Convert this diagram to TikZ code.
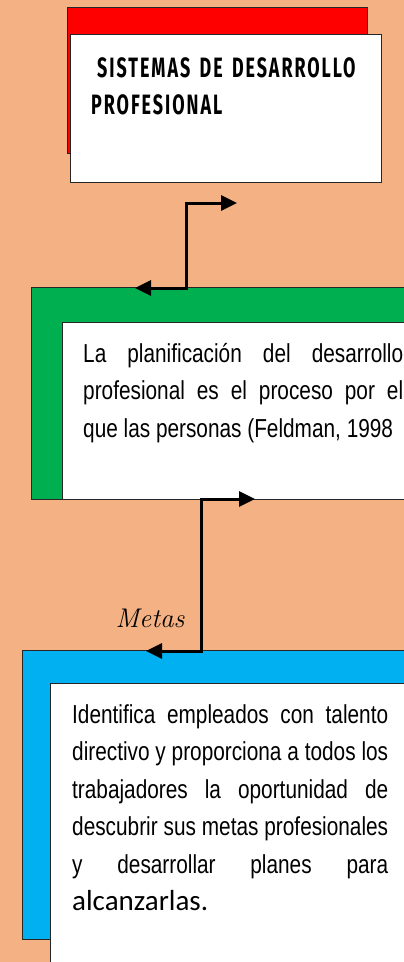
\documentclass[tikz,border=0pt]{standalone}
\usepackage{fontspec}
\usetikzlibrary{arrows.meta}
\newfontfamily\cuerpo[FakeStretch=0.8]{Liberation Sans}
\newfontfamily\titulofont[FakeStretch=0.64,LetterSpace=7]{Fira Sans}
\newfontfamily\calibri{Carlito}
\definecolor{fondo}{RGB}{244,177,131}
\definecolor{rojo}{RGB}{255,0,0}
\definecolor{verde}{RGB}{0,176,80}
\definecolor{azul}{RGB}{0,176,240}

\begin{document}
\begin{tikzpicture}[x=1pt,y=-1pt,
    caja/.style={draw=black!85,line width=1pt,anchor=north west,inner sep=0pt},
    texto/.style={anchor=base west,inner sep=0pt,align=justify,
      font=\cuerpo\fontsize{26}{37.5}\selectfont},
    flecha/.style={line width=3pt,
      {Triangle[length=16pt,width=15pt]}-{Triangle[length=16pt,width=15pt]}}]
  \clip (0,0) rectangle (404,962);
  \fill[fondo] (0,0) rectangle (404,962);
  \draw
  (67,7) node[caja,fill=rojo,minimum width=300,minimum height=146] (rojo) {}
  (70,34) node[caja,fill=white,minimum width=311,minimum height=148] (blanco1) {}
  (31,287) node[caja,fill=verde,minimum width=390,minimum height=212] (verde) {}
  (62,322) node[caja,fill=white,minimum width=360,minimum height=177] (blanco2) {}
  (22,650) node[caja,fill=azul,minimum width=400,minimum height=289] (azul) {}
  (50,683) node[caja,fill=white,minimum width=370,minimum height=300] (blanco3) {};

  \node[anchor=base west,inner sep=0pt,text width=300,align=left,
    font=\titulofont\bfseries\fontsize{28}{37}\selectfont] (titulo) at (91,77)
    {\hspace{6pt}SISTEMAS DE DESARROLLO\\PROFESIONAL};
  \node[texto,text width=320] (plan) at (83,362)
    {La planificación del desarrollo\linebreak profesional es el proceso por el\linebreak
     que las personas (Feldman, 1998};
  \node[texto,text width=316] (identifica) at (72,723)
    {Identifica empleados con talento\linebreak directivo y proporciona a todos los\linebreak
     trabajadores la oportunidad de\linebreak descubrir sus metas profesionales\linebreak
     y desarrollar planes para\linebreak {\calibri\fontsize{29}{37.5}\selectfont alcanzarlas.}};
  \node[font=\itshape\fontsize{27}{30}\selectfont,anchor=base] (metas) at (150,627) {Metas};

  \coordinate (f1a) at (237,203);
  \coordinate (codo1) at (186,245);
  \coordinate (f1b) at (135,288);
  \coordinate (f2a) at (255,499);
  \coordinate (codo2) at (201,575);
  \coordinate (f2b) at (146,651);
  \draw[flecha] (f1a) -| (codo1) |- (f1b);
  \draw[flecha] (f2a) -| (codo2) |- (f2b);
\end{tikzpicture}
\end{document}
